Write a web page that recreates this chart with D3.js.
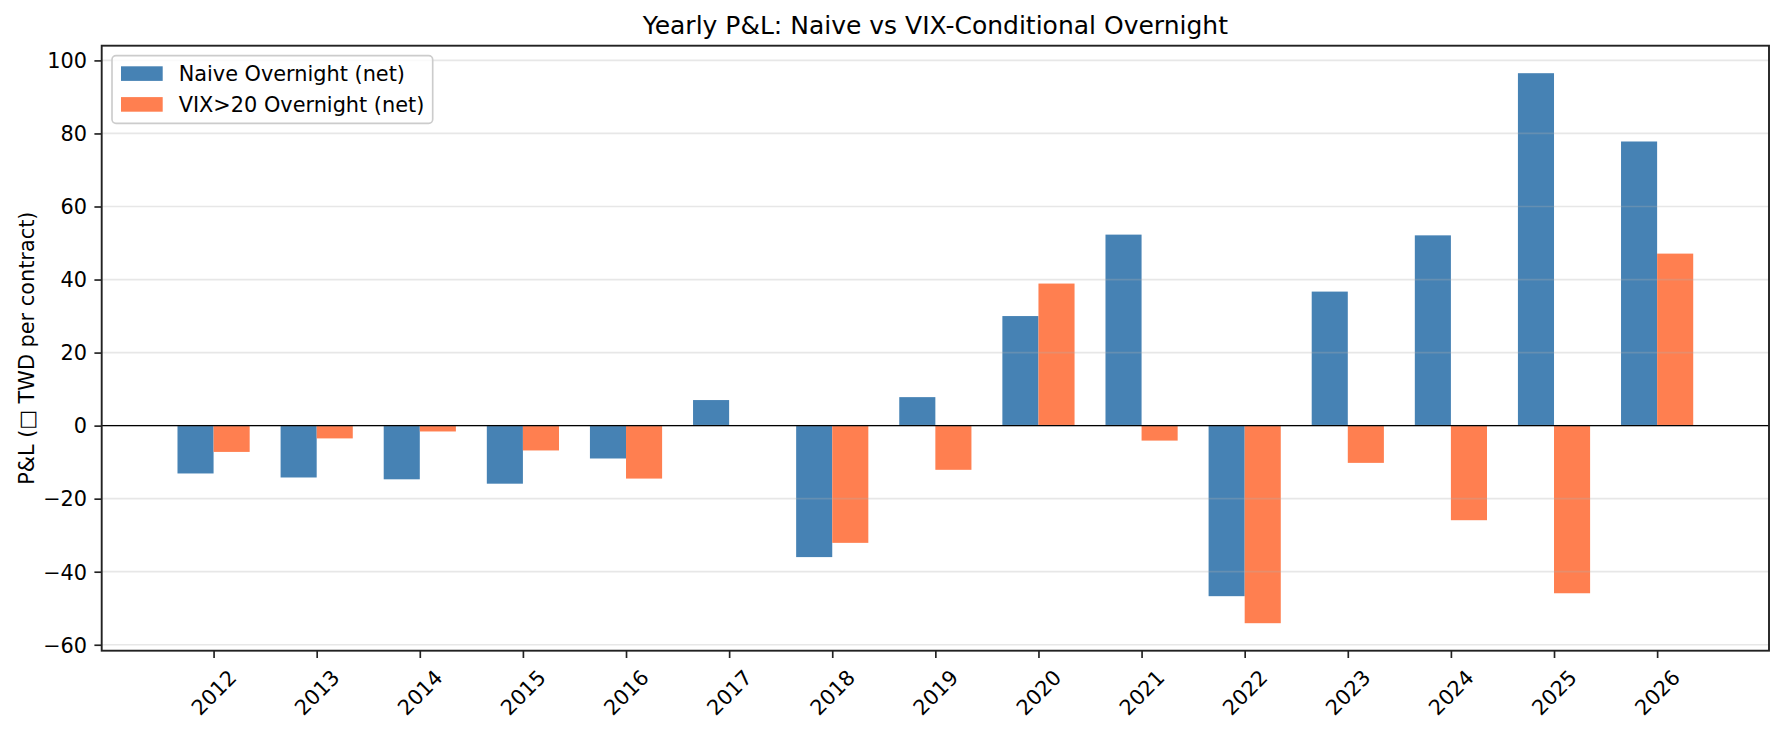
<!DOCTYPE html>
<html>
<head>
<meta charset="utf-8">
<script src="https://cdn.jsdelivr.net/npm/d3@7"></script>
<style>
  html, body { margin: 0; padding: 0; background: #fff; }
  svg { display: block; font-family: "DejaVu Sans", sans-serif; }
</style>
</head>
<body>
<svg id="chart" width="1784" height="732"></svg>
<script>
// ---- data ----
const years = ["2012","2013","2014","2015","2016","2017","2018","2019","2020","2021","2022","2023","2024","2025","2026"];
const naiveNet = [-13.1, -14.2, -14.7, -15.9, -9.0, 7.0, -36.0, 7.8, 30.0, 52.3, -46.7, 36.7, 52.1, 96.5, 77.8];
const vixNet = [-7.2, -3.5, -1.6, -6.8, -14.5, 0, -32.1, -12.1, 38.9, -4.1, -54.1, -10.2, -25.9, -45.9, 47.1];
const seriesNames = ["Naive Overnight (net)", "VIX>20 Overnight (net)"];
const yTicks = [-60, -40, -20, 0, 20, 40, 60, 80, 100];
const titleText = "Yearly P&L: Naive vs VIX-Conditional Overnight";
const yLabelText = "P&L (\u25A1 TWD per contract)";

// ---- layout ----
const colors = ["#4682B4", "#FF7F50"];
const fs = 20.83;
const plot = { left: 101.7, right: 1769, top: 45.7, bottom: 650.7 };
const barW = 0.35;

const svg = d3.select("#chart");
svg.append("rect").attr("width", 1784).attr("height", 732).attr("fill", "#fff");

const n = years.length;
const xPad = barW + 0.05 * ((n - 1) + 2 * barW);
const x = d3.scaleLinear().domain([-xPad, (n - 1) + xPad]).range([plot.left, plot.right]);

const allVals = naiveNet.concat(vixNet);
const yMin = d3.min(allVals), yMax = d3.max(allVals);
const ySpan = yMax - yMin;
const y = d3.scaleLinear().domain([yMin - 0.05 * ySpan, yMax + 0.05 * ySpan]).range([plot.bottom, plot.top]);

// bars
const series = [naiveNet, vixNet];
series.forEach((vals, si) => {
  svg.append("g").selectAll("rect").data(vals).enter().append("rect")
    .attr("x", (d, i) => x(i + (si === 0 ? -barW : 0)))
    .attr("width", (d, i) => x(i + barW) - x(i))
    .attr("y", d => y(Math.max(0, d)))
    .attr("height", d => Math.abs(y(d) - y(0)))
    .attr("fill", colors[si]);
});

// grid (drawn above bars with alpha)
svg.append("g").selectAll("line").data(yTicks).enter().append("line")
  .attr("x1", plot.left).attr("x2", plot.right)
  .attr("y1", d => y(d)).attr("y2", d => y(d))
  .attr("stroke", "#b0b0b0").attr("stroke-opacity", 0.3).attr("stroke-width", 1.67);

// zero line
svg.append("line")
  .attr("x1", plot.left).attr("x2", plot.right)
  .attr("y1", y(0)).attr("y2", y(0))
  .attr("stroke", "#000").attr("stroke-width", 1.3);

// axes
const fmt = d3.format("d");
const yAxis = d3.axisLeft(y).tickValues(yTicks).tickFormat(d => fmt(d)).tickSize(7.3).tickPadding(7.3);
const gy = svg.append("g").attr("transform", `translate(${plot.left},0)`).call(yAxis);
gy.select(".domain").remove();
gy.selectAll(".tick line").attr("stroke", "#222").attr("stroke-width", 1.67);
gy.selectAll(".tick text").attr("font-size", fs).attr("fill", "#000")
  .attr("font-family", "DejaVu Sans").attr("dy", "0.35em");

const xAxis = d3.axisBottom(x).tickValues(d3.range(n)).tickFormat(i => years[i]).tickSize(7.3);
const gx = svg.append("g").attr("transform", `translate(0,${plot.bottom})`).call(xAxis);
gx.select(".domain").remove();
gx.selectAll(".tick line").attr("stroke", "#222").attr("stroke-width", 1.67);
gx.selectAll(".tick text")
  .attr("font-size", fs).attr("fill", "#000").attr("font-family", "DejaVu Sans")
  .attr("text-anchor", "middle").attr("dominant-baseline", "central")
  .attr("x", 0).attr("y", 0).attr("dy", null)
  .attr("transform", "translate(0,42) rotate(-45)");

// spines
svg.append("rect")
  .attr("x", plot.left).attr("y", plot.top)
  .attr("width", plot.right - plot.left).attr("height", plot.bottom - plot.top)
  .attr("fill", "none").attr("stroke", "#222").attr("stroke-width", 1.9);

// title
svg.append("text").attr("x", (plot.left + plot.right) / 2).attr("y", 34)
  .attr("text-anchor", "middle").attr("font-size", 25).attr("fill", "#000")
  .text(titleText);

// y label
svg.append("text")
  .attr("transform", `translate(26.5,${(plot.top + plot.bottom) / 2}) rotate(-90)`)
  .attr("text-anchor", "middle").attr("dominant-baseline", "central")
  .attr("font-size", fs).attr("fill", "#000")
  .text(yLabelText);

// legend
const lg = svg.append("g");
lg.append("rect").attr("x", 112).attr("y", 55.7).attr("width", 320.7).attr("height", 67.6)
  .attr("rx", 4).attr("fill", "#fff").attr("fill-opacity", 0.8)
  .attr("stroke", "#cccccc").attr("stroke-width", 1.67);
seriesNames.forEach((name, i) => {
  const cy = 73.6 + i * 30.8;
  lg.append("rect").attr("x", 121).attr("y", cy - 7.3).attr("width", 41.7).attr("height", 14.6)
    .attr("fill", colors[i]);
  lg.append("text").attr("x", 178.7).attr("y", cy + 7.3)
    .attr("font-size", fs).attr("fill", "#000").text(name);
});
</script>
</body>
</html>
